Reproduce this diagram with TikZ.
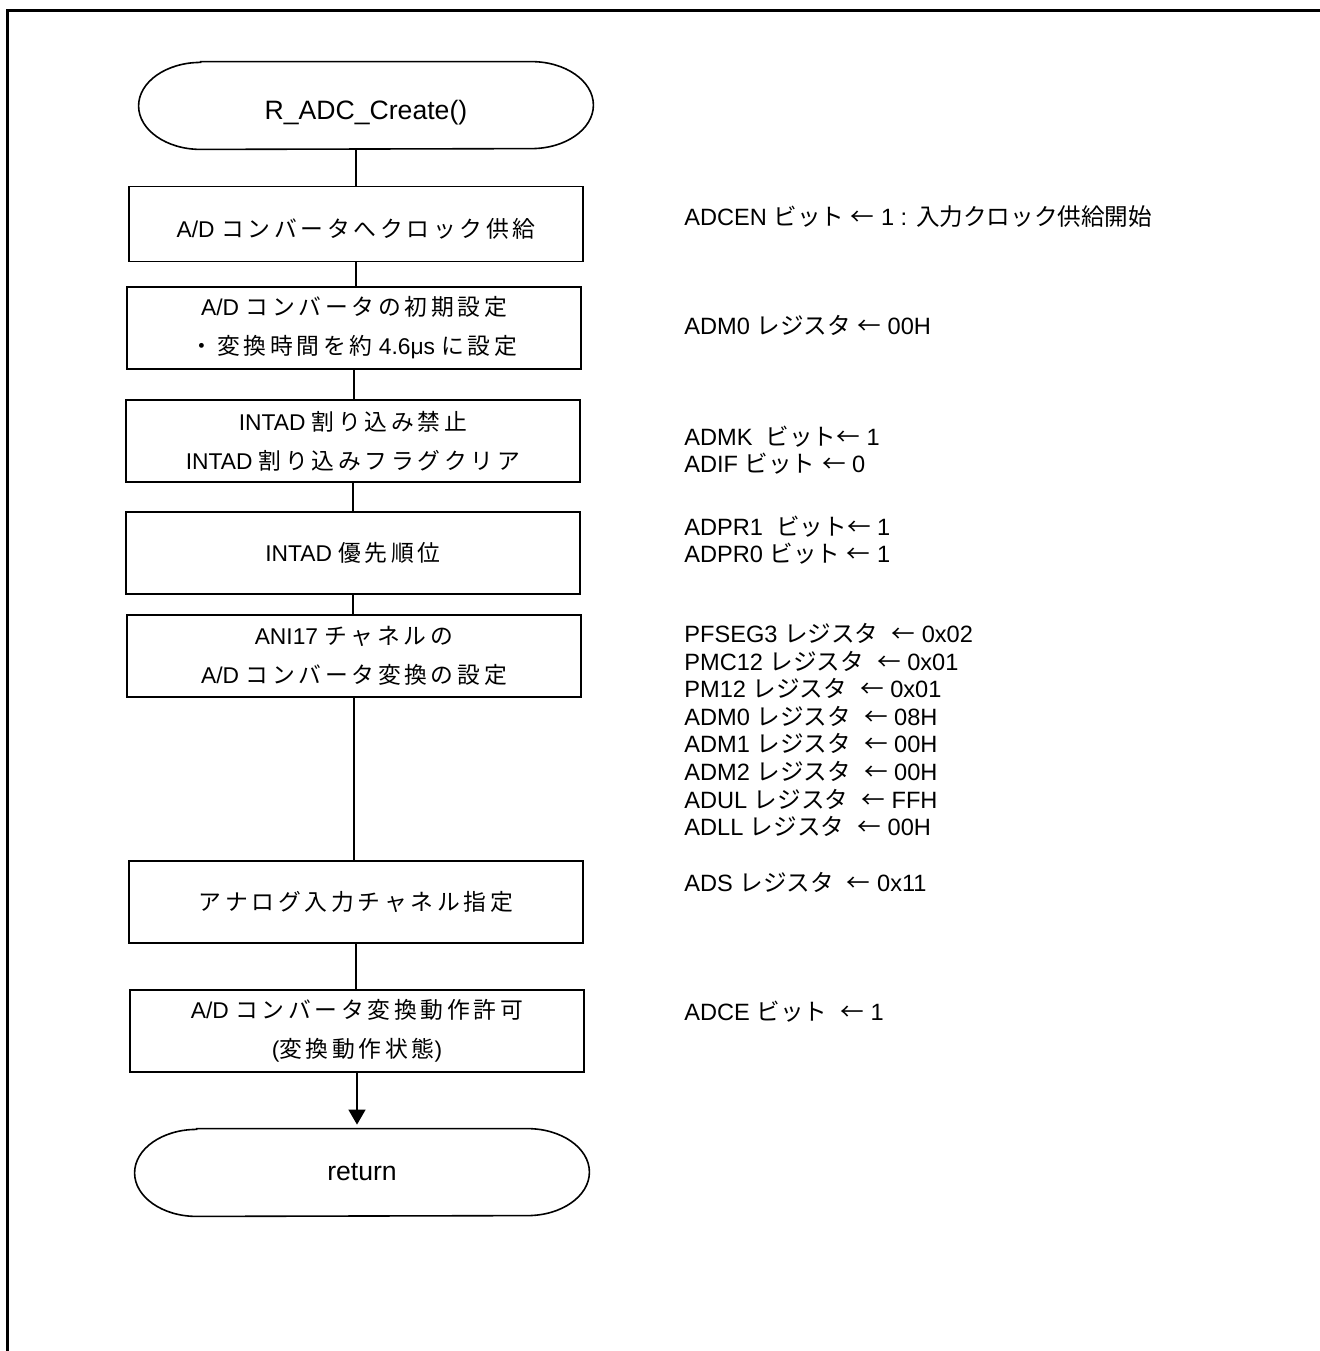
\documentclass[tikz,border=0pt]{standalone}
\usepackage{fontspec}
\setmainfont{Liberation Sans}
\newfontfamily\jpfont{Noto Sans CJK JP}
\usetikzlibrary{arrows.meta}

% kana, kanji and the arrow go to the Japanese font by themselves
\XeTeXinterchartokenstate=1
\newXeTeXintercharclass\jpclass
\newcount\jpcnt
\newdimen\jpgap
\jpgap=0pt
\jpcnt="3000
\loop\ifnum\jpcnt<"3100 \XeTeXcharclass\jpcnt=\jpclass \advance\jpcnt by 1 \repeat
\jpcnt="4E00
\loop\ifnum\jpcnt<"A000 \XeTeXcharclass\jpcnt=\jpclass \advance\jpcnt by 1 \repeat
\jpcnt="FF00
\loop\ifnum\jpcnt<"FFF0 \XeTeXcharclass\jpcnt=\jpclass \advance\jpcnt by 1 \repeat
\XeTeXcharclass"2190=\jpclass
\XeTeXinterchartoks 0 \jpclass = {\jpfont}
\XeTeXinterchartoks 4095 \jpclass = {\jpfont}
\XeTeXinterchartoks \jpclass 0 = {\normalfont}
\XeTeXinterchartoks \jpclass 4095 = {\normalfont}
\XeTeXinterchartoks \jpclass \jpclass = {\kern\jpgap}

\newcommand\termline[1]{%
  \draw[line width=0.8pt] ([xshift=31pt]#1.north west) -- ([xshift=-31pt]#1.north east)
    arc[start angle=90, end angle=-90, x radius=31pt, y radius=21.75pt]
    -- ([xshift=31pt]#1.south west)
    arc[start angle=270, end angle=90, x radius=31pt, y radius=21.75pt] -- cycle;}

\begin{document}
\begin{tikzpicture}[x=0.5pt, y=-0.5pt,
    every node/.style={font=\fontsize{11.8pt}{13.8pt}\selectfont},
    box/.style={draw, line width=0.8pt, minimum width=227pt, minimum height=41pt,
      align=center, font={\fontsize{11.4pt}{19.4pt}\selectfont\jpgap=1.85pt\relax}},
    term/.style={minimum width=227pt, minimum height=43.5pt,
      font=\fontsize{13.3pt}{16pt}\selectfont},
    note/.style={anchor=west, align=left, inner sep=0pt}]
      \useasboundingbox (0,0) rectangle (1320,1351);
      \draw[line width=1.5pt] (7,1351) -- (7,10) -- (1320,10);

      \node[term] (a0) at (366,105.5){\raisebox{-3.8pt}[\height][\depth]{R\_ADC\_Create()}};
      \node[box, minimum height=37.5pt, text height=13.6pt, text depth=0pt] (a1) at (356,224){A/D コンバータへクロック供給};
      \node[box] (a2) at (354,328){A/D コンバータの初期設定\\・変換時間を約 4.6μs に設定};
      \node[box] (a3) at (353,441){INTAD 割り込み禁止\\INTAD 割り込みフラグクリア};
      \node[box] (a4) at (353,553){INTAD 優先順位};
      \node[box] (a5) at (354,656){ANI17 チャネルの\\A/D コンバータ変換の設定};
      \node[box] (a6) at (356,902){アナログ入力チャネル指定};
      \node[box] (a7) at (357,1031){A/D コンバータ変換動作許可\\(変換動作状態)};
      \node[term] (a8) at (362,1172.5){return};
      \termline{a0}
      \termline{a8}

      \node[note] (r1) at (684,217){ADCEN ビット ← 1 : 入力クロック供給開始};
      \node[note] (r2) at (684,325){ADM0 レジスタ ← 00H};
      \node[note] (r3) at (684,450){ADMK\ \ ビット← 1\\ADIF ビット ← 0};
      \node[note] (r4) at (684,540){ADPR1\ \ ビット← 1\\ADPR0 ビット ← 1};
      \node[note] (r5) at (684,730){PFSEG3 レジスタ\ \ ← 0x02\\PMC12 レジスタ\ \ ← 0x01\\PM12 レジスタ\ \ ← 0x01\\ADM0 レジスタ\ \ ← 08H\\ADM1 レジスタ\ \ ← 00H\\ADM2 レジスタ\ \ ← 00H\\ADUL レジスタ\ \ ← FFH\\ADLL レジスタ\ \ ← 00H};
      \node[note] (r6) at (684,882){ADS レジスタ\ \ ← 0x11};
      \node[note] (r7) at (684,1012){ADCE ビット\ \ ← 1};

      \draw[line width=0.7pt] (a0.south -| a1.north) -- (a1.north);
      \draw[line width=0.7pt] (a1.south) -- (a1.south |- a2.north);
      \draw[line width=0.7pt] (a2.south) -- (a2.south |- a3.north);
      \draw[line width=0.7pt] (a3.south) -- (a3.south |- a4.north);
      \draw[line width=0.7pt] (a4.south) -- (a4.south |- a5.north);
      \draw[line width=0.7pt] (a5.south) -- (a5.south |- a6.north);
      \draw[line width=0.7pt] (a6.south) -- (a6.south |- a7.north);
      \draw[line width=0.7pt, -{Triangle[length=7.5pt, width=8.5pt]}, shorten >=2pt] (a7.south) -- (a7.south |- a8.north);

    \end{tikzpicture}
\end{document}
